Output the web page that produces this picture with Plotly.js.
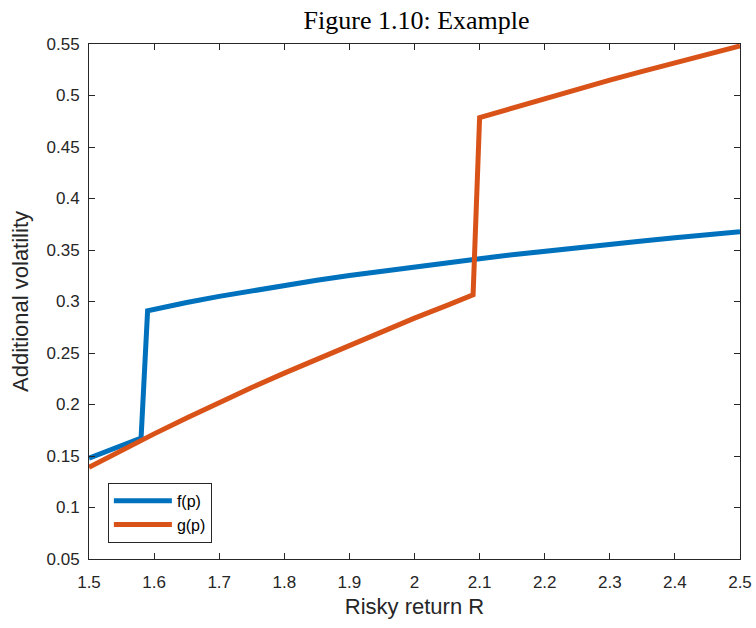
<!DOCTYPE html>
<html>
<head>
<meta charset="utf-8">
<script src="https://cdn.plot.ly/plotly-3.0.1.min.js"></script>
<style>html,body{margin:0;padding:0;background:#fff;}</style>
</head>
<body>
<div id="chart" style="width:756px;height:628px;"></div>
<script>
// f(p) series
const fX = [1.5, 1.55, 1.58, 1.59, 1.6, 1.65, 1.7, 1.75, 1.8, 1.85, 1.9, 1.95, 2.0, 2.05, 2.1, 2.15, 2.2, 2.25, 2.3, 2.35, 2.4, 2.45, 2.5];
const fY = [0.148, 0.160, 0.1675, 0.291, 0.2925, 0.2990, 0.3050, 0.3105, 0.3157, 0.3206, 0.3252, 0.3296, 0.3338, 0.3378, 0.3416, 0.3453, 0.3489, 0.3523, 0.3556, 0.3588, 0.3619, 0.3649, 0.3678];
// g(p) series
const gX = [1.5, 1.55, 1.58, 1.6, 1.65, 1.7, 1.75, 1.8, 1.85, 1.9, 1.95, 2.0, 2.05, 2.09, 2.1, 2.15, 2.2, 2.25, 2.3, 2.35, 2.4, 2.45, 2.5];
const gY = [0.139, 0.1555, 0.1652, 0.1715, 0.1870, 0.2020, 0.2165, 0.2305, 0.2440, 0.2572, 0.2702, 0.2838, 0.2962, 0.3066, 0.4785, 0.4879, 0.4971, 0.5061, 0.5149, 0.5235, 0.5319, 0.5401, 0.5481];
// tick labels
const xTicks = [1.5, 1.6, 1.7, 1.8, 1.9, 2, 2.1, 2.2, 2.3, 2.4, 2.5];
const xTickText = ['1.5', '1.6', '1.7', '1.8', '1.9', '2', '2.1', '2.2', '2.3', '2.4', '2.5'];
const yTicks = [0.05, 0.1, 0.15, 0.2, 0.25, 0.3, 0.35, 0.4, 0.45, 0.5, 0.55];
const yTickText = ['0.05', '0.1', '0.15', '0.2', '0.25', '0.3', '0.35', '0.4', '0.45', '0.5', '0.55'];

const axisColor = '#262626';
const sans = 'Liberation Sans, Arial, sans-serif';
const traces = [
  {x: fX, y: fY, mode: 'lines', name: 'f(p)', line: {color: '#0072BD', width: 5}},
  {x: gX, y: gY, mode: 'lines', name: 'g(p)', line: {color: '#D95319', width: 5}}
];
const axisCommon = {
  showgrid: false, zeroline: false, showline: true, linecolor: axisColor, linewidth: 1,
  mirror: 'ticks', ticks: 'inside', ticklen: 6, tickcolor: axisColor, tickwidth: 1,
  tickfont: {family: sans, size: 17, color: axisColor}
};
const layout = {
  width: 756, height: 628,
  margin: {l: 89, r: 16, t: 44, b: 69},
  paper_bgcolor: '#fff', plot_bgcolor: '#fff',
  title: {text: 'Figure 1.10: Example', font: {family: 'Liberation Serif, serif', size: 26, color: '#000'},
          x: 0.551, xanchor: 'center', y: 0.968, yanchor: 'middle'},
  xaxis: Object.assign({}, axisCommon, {
    range: [1.5, 2.5], tickvals: xTicks, ticktext: xTickText, ticklabelstandoff: 8,
    title: {text: 'Risky return R', font: {family: sans, size: 22, color: axisColor}, standoff: 7}
  }),
  yaxis: Object.assign({}, axisCommon, {
    range: [0.05, 0.55], tickvals: yTicks, ticktext: yTickText, ticklabelstandoff: 5,
    title: {text: 'Additional volatility', font: {family: sans, size: 22, color: axisColor}, standoff: 11}
  }),
  showlegend: true,
  legend: {
    x: 0.029, y: 0.148, xanchor: 'left', yanchor: 'top',
    bordercolor: axisColor, borderwidth: 1, bgcolor: '#fff',
    font: {family: sans, size: 16, color: '#000'},
    tracegroupgap: 0, itemwidth: 58
  }
};
Plotly.newPlot('chart', traces, layout, {displayModeBar: false, staticPlot: true}).then(function (gd) {
  // lengthen the legend line samples to match the wider symbol area
  gd.querySelectorAll('.legend .legendlines path').forEach(function (p) {
    p.setAttribute('d', 'M5,0h58');
  });
});
</script>
</body>
</html>
